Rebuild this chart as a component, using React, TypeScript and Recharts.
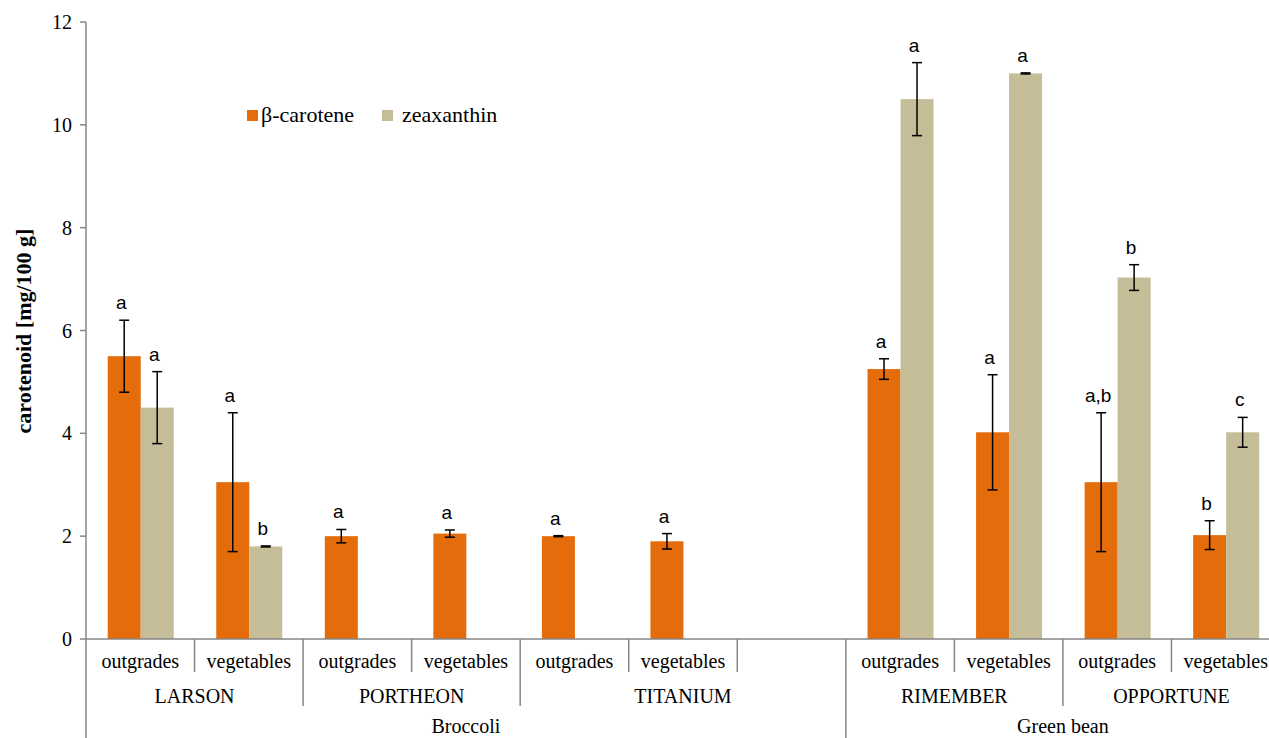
import { BarChart, Bar, XAxis, YAxis, ErrorBar, Legend } from "recharts";

// Category levels, left to right (one empty slot separates the two crops)
const fractions = ["outgrades", "vegetables", "outgrades", "vegetables", "outgrades", "vegetables", "", "outgrades", "vegetables", "outgrades", "vegetables"];
const cultivars = ["LARSON", "LARSON", "PORTHEON", "PORTHEON", "TITANIUM", "TITANIUM", "TITANIUM", "RIMEMBER", "RIMEMBER", "OPPORTUNE", "OPPORTUNE"];
const crops = ["Broccoli", "Broccoli", "Broccoli", "Broccoli", "Broccoli", "Broccoli", "Broccoli", "Green bean", "Green bean", "Green bean", "Green bean"];

// mg/100 g, with standard deviation and significance letters
const betaCarotene = [5.5, 3.05, 2.0, 2.05, 2.0, 1.9, null, 5.25, 4.02, 3.05, 2.02];
const betaError = [0.7, 1.35, 0.13, 0.07, 0.01, 0.15, null, 0.2, 1.12, 1.35, 0.28];
const betaLetters = ["a", "a", "a", "a", "a", "a", "", "a", "a", "a,b", "b"];

const zeaxanthin = [4.5, 1.8, null, null, null, null, null, 10.5, 11.0, 7.03, 4.02];
const zeaError = [0.7, 0.01, null, null, null, null, null, 0.71, 0.01, 0.25, 0.29];
const zeaLetters = ["a", "b", "", "", "", "", "", "a", "a", "b", "c"];

const yTicks = [0, 2, 4, 6, 8, 10, 12];

const data = fractions.map((fraction, i) => ({
  key: `c${i}`,
  fraction,
  beta: betaCarotene[i],
  betaErr: betaError[i],
  betaSig: betaLetters[i],
  zea: zeaxanthin[i],
  zeaErr: zeaError[i],
  zeaSig: zeaLetters[i],
}));

const CHART_W = 1280;
const CHART_H = 738;
const PLOT_LEFT = 86;
const PLOT_TOP = 22;
const AXIS_H = 99;
const PLOT_BOTTOM = CHART_H - AXIS_H;
const SLOT = (CHART_W - PLOT_LEFT) / fractions.length;

const ORANGE = "#E46C0A";
const BEIGE = "#C4BD97";
const LINE = "#868686";
const SERIF = '"Liberation Serif", "Times New Roman", serif';
const SANS = '"Liberation Sans", Arial, sans-serif';

function runLength(labels: string[], start: number) {
  let n = 1;
  while (start + n < labels.length && labels[start + n] === labels[start]) n++;
  return n;
}

// Three-level category axis: fraction / cultivar / crop, with Excel-style dividers
const CategoryTick = (props: any) => {
  const { x, index: i } = props;
  const left = x - SLOT / 2;
  let depth = 33;
  if (i === 0 || crops[i] !== crops[i - 1]) depth = AXIS_H;
  else if (cultivars[i] !== cultivars[i - 1]) depth = 67;

  const textStyle = { fontFamily: SERIF, fontSize: 20, fill: "#000" };
  const cultivarStart = i === 0 || cultivars[i] !== cultivars[i - 1];
  const cropStart = i === 0 || crops[i] !== crops[i - 1];

  return (
    <g>
      <line x1={left} x2={left} y1={PLOT_BOTTOM} y2={PLOT_BOTTOM + depth} stroke={LINE} strokeWidth={1.5} />
      <text x={x} y={PLOT_BOTTOM + 29} textAnchor="middle" style={textStyle}>
        {fractions[i]}
      </text>
      {cultivarStart && (
        <text x={left + (runLength(cultivars, i) * SLOT) / 2} y={PLOT_BOTTOM + 64} textAnchor="middle" style={textStyle}>
          {cultivars[i]}
        </text>
      )}
      {cropStart && (
        <text x={left + (runLength(crops, i) * SLOT) / 2} y={PLOT_BOTTOM + 94} textAnchor="middle" style={textStyle}>
          {crops[i]}
        </text>
      )}
    </g>
  );
};

const YTitle = () => (
  <text
    x={23}
    y={331}
    transform="rotate(-90 23 331)"
    textAnchor="middle"
    dominantBaseline="central"
    style={{ fontFamily: SERIF, fontSize: 22, fontWeight: "bold", fill: "#000" }}
  >
    carotenoid [mg/100 g]
  </text>
);

// Bar rectangle plus its significance letter above the error bar
const barWithLetter = (valueKey: string, errKey: string, sigKey: string, fill: string) => (props: any) => {
  const { x, y, width, height, payload } = props;
  if (!height || height <= 0) return <g />;
  const value = payload[valueKey];
  const err = payload[errKey] ?? 0;
  const errTop = y - (err * height) / value;
  return (
    <g>
      <rect x={x} y={y} width={width} height={height} fill={fill} />
      {payload[sigKey] && (
        <text
          x={x + width / 2 - 3}
          y={errTop - 11}
          textAnchor="middle"
          style={{ fontFamily: SANS, fontSize: 19, fill: "#000" }}
        >
          {payload[sigKey]}
        </text>
      )}
    </g>
  );
};

const LegendContent = () => (
  <div style={{ display: "flex", alignItems: "center", fontFamily: SERIF, fontSize: 22, color: "#000", whiteSpace: "nowrap" }}>
    <span style={{ width: 11, height: 11, background: ORANGE, display: "inline-block", marginRight: 3 }} />
    <span style={{ marginRight: 28 }}>β-carotene</span>
    <span style={{ width: 11, height: 11, background: BEIGE, display: "inline-block", marginRight: 9 }} />
    <span>zeaxanthin</span>
  </div>
);

export default function App() {
  return (
    <div style={{ position: "absolute", left: 0, top: 0, width: 1269, height: 738, overflow: "hidden", background: "#fff" }}>
      <BarChart
        width={CHART_W}
        height={CHART_H}
        data={data}
        margin={{ top: PLOT_TOP, right: 0, bottom: 0, left: 0 }}
        barCategoryGap="20%"
        barGap={0}
      >
        <XAxis
          dataKey="key"
          height={AXIS_H}
          interval={0}
          tickLine={false}
          axisLine={{ stroke: LINE, strokeWidth: 1.5 }}
          tick={<CategoryTick />}
        />
        <YAxis
          width={PLOT_LEFT}
          domain={[0, 12]}
          ticks={yTicks}
          tickSize={6}
          tickMargin={8}
          axisLine={{ stroke: LINE, strokeWidth: 1.5 }}
          tickLine={{ stroke: LINE, strokeWidth: 1.5 }}
          tick={{ fontFamily: SERIF, fontSize: 20, fill: "#000" }}
          label={<YTitle />}
        />
        <Legend
          layout="horizontal"
          verticalAlign="middle"
          align="center"
          wrapperStyle={{ left: 247, top: 102, width: 320 }}
          content={<LegendContent />}
        />
        <Bar dataKey="beta" name="β-carotene" fill={ORANGE} isAnimationActive={false} shape={barWithLetter("beta", "betaErr", "betaSig", ORANGE)}>
          <ErrorBar dataKey="betaErr" width={5} stroke="#000" strokeWidth={1.5} />
        </Bar>
        <Bar dataKey="zea" name="zeaxanthin" fill={BEIGE} isAnimationActive={false} shape={barWithLetter("zea", "zeaErr", "zeaSig", BEIGE)}>
          <ErrorBar dataKey="zeaErr" width={5} stroke="#000" strokeWidth={1.5} />
        </Bar>
      </BarChart>
    </div>
  );
}
